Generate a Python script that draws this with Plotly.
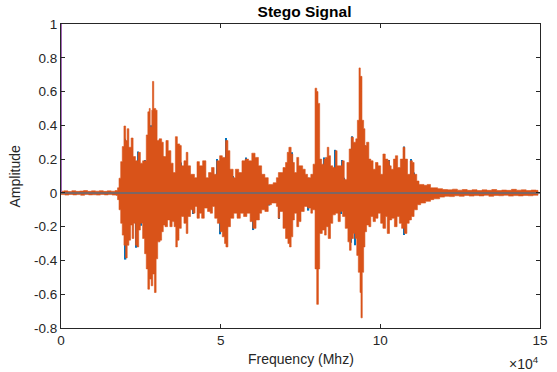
import plotly.graph_objects as go

# ---- data ----
# stego signal envelope, upper edge (sample index, amplitude)
stego_hi_x = [0, 924, 2156, 3388, 4620, 5852, 7084, 8316, 9548, 10780, 12012, 13244, 14476, 15708, 16940,
              17710, 18172, 18696, 19188, 19712, 20236, 20728, 21252, 21960, 22576, 23316, 24116, 24856, 25564,
              26180, 26704, 27196, 27628, 27936, 28428, 28644, 29044, 29660, 30092, 30708, 31508, 32032, 32864,
              33572, 34404, 35112, 35820, 36436, 37176, 37668, 38500, 39208, 39732, 40564, 41796, 42596, 43336,
              44352, 45368, 46200, 47124, 47956, 48756, 49680, 50512, 51528, 52268, 52884, 53900, 54608, 55656,
              56672, 57688, 58736, 59752, 60768, 61816, 62832, 63848, 64896, 66436, 67452, 68068, 68992, 69516,
              70320, 70840, 71364, 72072, 72592, 73088, 73828, 74444, 75152, 75676, 76476, 77216, 78232, 78940,
              79556, 80080, 80480, 81004, 81620, 82328, 82852, 83376, 83868, 84392, 85100, 85932, 86456, 87472,
              87996, 88704, 89536, 90244, 90860, 91576, 92316, 92808, 93324, 93728, 94248, 94772, 95172, 95696,
              96404, 97020, 97728, 98468, 99268, 100100, 100808, 101548, 102348, 102872, 103396, 104104, 104720,
              105428, 106260, 107092, 107708, 108508, 109340, 110048, 110572, 111404, 112112, 113652, 114676,
              115716, 116732, 117964, 119504, 121044, 122584, 124124, 125664, 127204, 128744, 130284, 131824,
              133364, 134904, 136444, 137984, 139524, 141064, 142604, 144144, 145684, 147224, 148764, 149380]
stego_hi = [0.010, 0.012, 0.008, 0.013, 0.009, 0.011, 0.014, 0.009, 0.012, 0.010, 0.013, 0.009, 0.012, 0.010, 0.014,
            0.030, 0.087, 0.185, 0.274, 0.396, 0.310, 0.380, 0.270, 0.325, 0.215, 0.190, 0.240, 0.176, 0.190,
            0.190, 0.343, 0.480, 0.500, 0.390, 0.490, 0.660, 0.500, 0.490, 0.310, 0.320, 0.300, 0.215, 0.310,
            0.250, 0.176, 0.120, 0.333, 0.290, 0.280, 0.160, 0.190, 0.240, 0.160, 0.110, 0.090, 0.185, 0.160,
            0.190, 0.090, 0.120, 0.150, 0.110, 0.190, 0.220, 0.210, 0.310, 0.250, 0.140, 0.090, 0.140, 0.120,
            0.190, 0.200, 0.190, 0.235, 0.210, 0.160, 0.110, 0.090, 0.050, 0.060, 0.090, 0.120, 0.120, 0.150,
            0.180, 0.240, 0.270, 0.230, 0.180, 0.120, 0.210, 0.160, 0.160, 0.140, 0.110, 0.090, 0.110, 0.170,
            0.620, 0.600, 0.530, 0.200, 0.170, 0.200, 0.210, 0.270, 0.220, 0.160, 0.150, 0.250, 0.160, 0.160,
            0.190, 0.080, 0.180, 0.260, 0.330, 0.300, 0.320, 0.430, 0.740, 0.690, 0.430, 0.380, 0.280, 0.300,
            0.200, 0.190, 0.140, 0.180, 0.160, 0.110, 0.230, 0.200, 0.190, 0.160, 0.140, 0.200, 0.220,
            0.150, 0.200, 0.270, 0.200, 0.110, 0.190, 0.180, 0.110, 0.070, 0.050, 0.045, 0.050,
            0.030, 0.030, 0.025, 0.020, 0.018, 0.022, 0.016, 0.020, 0.015, 0.019, 0.014, 0.018,
            0.015, 0.020, 0.014, 0.017, 0.015, 0.021, 0.016, 0.018, 0.014, 0.017, 0.015, 0.000]

# stego signal envelope, lower edge
stego_lo_x = [0, 1232, 2464, 3696, 4928, 6160, 7392, 8624, 9856, 11088, 12320, 13552, 14784, 16016, 17248,
              17710, 18172, 18696, 19188, 19712, 20236, 20728, 21252, 21776, 22268, 22792, 23316, 23808, 24332,
              24856, 25564, 26180, 26704, 27196, 27720, 28244, 28736, 29260, 29784, 30276, 31016, 31508, 32032,
              32556, 33356, 34096, 34804, 35420, 35944, 36436, 36960, 37668, 38500, 39208, 39732, 40564, 41272,
              41980, 42596, 43336, 44044, 44864, 45892, 46724, 47432, 48140, 48972, 49804, 50512, 51220, 51652,
              52268, 53068, 54116, 55132, 56148, 57184, 58212, 59228, 60060, 61076, 62124, 62832, 63848, 64896,
              65912, 67452, 67976, 68476, 69516, 70320, 71056, 71560, 72072, 72592, 73088, 73828, 74444, 75152,
              76168, 77216, 78232, 78756, 79556, 80080, 80604, 81004, 81824, 82536, 83060, 83676, 84392, 85100,
              85932, 86764, 87472, 88180, 89012, 89844, 90336, 90860, 91576, 92092, 92616, 93108, 93632, 93940,
              94340, 94772, 95172, 95696, 96404, 97020, 97728, 98468, 99268, 100100, 100808, 101640, 102156,
              102872, 103580, 104412, 105244, 105952, 106660, 107492, 108324, 109032, 109740, 110572, 111596,
              112640, 114180, 115716, 116732, 118580, 120120, 121660, 123200, 124740, 126280, 127820, 129360,
              130900, 132440, 133980, 135520, 137060, 138600, 140140, 141680, 143220, 144760, 146300, 147840,
              149380]
stego_lo = [-0.010, -0.013, -0.009, -0.012, -0.010, -0.014, -0.009, -0.012, -0.011, -0.013, -0.009, -0.012, -0.010, -0.013, -0.015,
            -0.040, -0.100, -0.180, -0.250, -0.310, -0.385, -0.310, -0.280, -0.190, -0.270, -0.180, -0.310, -0.320, -0.220,
            -0.180, -0.270, -0.360, -0.450, -0.570, -0.510, -0.550, -0.480, -0.590, -0.390, -0.290, -0.280, -0.230, -0.190,
            -0.200, -0.160, -0.200, -0.170, -0.200, -0.320, -0.280, -0.210, -0.140, -0.180, -0.240, -0.140, -0.100, -0.120,
            -0.080, -0.150, -0.120, -0.150, -0.090, -0.110, -0.120, -0.080, -0.150, -0.180, -0.230, -0.260, -0.300, -0.320,
            -0.200, -0.150, -0.120, -0.150, -0.120, -0.140, -0.120, -0.170, -0.210, -0.160, -0.120, -0.100, -0.110, -0.070,
            -0.060, -0.080, -0.150, -0.110, -0.210, -0.270, -0.300, -0.320, -0.260, -0.160, -0.120, -0.200, -0.170, -0.110,
            -0.080, -0.090, -0.120, -0.100, -0.450, -0.660, -0.450, -0.240, -0.220, -0.250, -0.200, -0.270, -0.180, -0.130,
            -0.120, -0.170, -0.110, -0.140, -0.210, -0.290, -0.340, -0.270, -0.240, -0.270, -0.370, -0.470, -0.590, -0.740,
            -0.470, -0.320, -0.230, -0.190, -0.200, -0.140, -0.170, -0.150, -0.120, -0.180, -0.210, -0.140, -0.240,
            -0.160, -0.150, -0.200, -0.140, -0.180, -0.210, -0.240, -0.180, -0.160, -0.140, -0.100, -0.070,
            -0.060, -0.050, -0.040, -0.035, -0.025, -0.020, -0.022, -0.017, -0.020, -0.015, -0.019, -0.016,
            -0.018, -0.014, -0.020, -0.015, -0.017, -0.014, -0.019, -0.016, -0.018, -0.015, -0.017, -0.014,
            0.000]

# original signal: places where it shows past the stego signal
orig_x = [20082, 22576, 24116, 26396, 28120, 29968, 32032, 37668, 42812, 48756, 51744, 53900, 58012, 62524,
          72380, 77524, 82544, 85932, 87996, 88612, 91080, 95172, 102656, 107400, 109648, 110572,
          20236, 23500, 25040, 41272, 49896, 60272, 65296, 68284, 77524, 87780, 90860, 92092, 107492, 110364]
orig_amp = [0.320, 0.210, 0.245, 0.195, 0.400, 0.305, 0.215, 0.180, 0.180, 0.200, 0.325, 0.100, 0.210, 0.120,
            0.240, 0.090, 0.210, 0.255, 0.195, 0.090, 0.335, 0.280, 0.195, 0.275, 0.200, 0.120,
            -0.395, -0.325, -0.195, -0.125, -0.245, -0.220, -0.075, -0.155, -0.105, -0.125, -0.295, -0.310, -0.250, -0.115]

zero_x = [0, 150000]
zero_y = [0, 0]
marker_x = [0, 0]
marker_y = [0, 1]

y_ticks = [-0.8, -0.6, -0.4, -0.2, 0, 0.2, 0.4, 0.6, 0.8, 1]
y_labels = ["-0.8", "-0.6", "-0.4", "-0.2", "0", "0.2", "0.4", "0.6", "0.8", "1"]
x_ticks = [0, 50000, 100000, 150000]
x_labels = ["0", "5", "10", "15"]

BLUE = "#0072BD"
ORANGE = "#D95319"
TXT = "#262626"
FONT = "Liberation Sans, Arial, sans-serif"

fig = go.Figure()

fig.add_trace(go.Bar(x=orig_x, y=orig_amp, base=0, width=420, marker=dict(color=BLUE, line=dict(width=0)),
                     showlegend=False, hoverinfo="skip"))

fig.add_trace(go.Scatter(x=stego_hi_x, y=stego_hi, mode="lines", line=dict(shape="hv", color=ORANGE, width=0.6),
                         fill="tozeroy", fillcolor=ORANGE, showlegend=False, hoverinfo="skip"))
fig.add_trace(go.Scatter(x=stego_lo_x, y=stego_lo, mode="lines", line=dict(shape="hv", color=ORANGE, width=0.6),
                         fill="tozeroy", fillcolor=ORANGE, showlegend=False, hoverinfo="skip"))

fig.add_trace(go.Scatter(x=zero_x, y=zero_y, mode="lines", line=dict(color="#5E6C7C", width=1.5),
                         showlegend=False, hoverinfo="skip"))
fig.add_trace(go.Scatter(x=marker_x, y=marker_y, mode="lines", line=dict(color="#A468B8", width=2),
                         showlegend=False, hoverinfo="skip", cliponaxis=False))

fig.update_layout(
    width=557, height=372,
    margin=dict(l=61, r=9, t=24, b=44),
    paper_bgcolor="white", plot_bgcolor="white",
    barmode="overlay",
    font=dict(family=FONT, color=TXT, size=13),
    title=dict(text="<b>Stego Signal</b>", x=0.5467, xanchor="center", y=1 - 12 / 372, yanchor="middle",
               yref="container", font=dict(size=15.5, color="#000000", family=FONT)),
    xaxis=dict(range=[0, 150000], tickvals=x_ticks, ticktext=x_labels, ticks="inside", ticklen=4,
               tickcolor=TXT, showline=True, linecolor=TXT, linewidth=1, mirror="ticks",
               showgrid=False, zeroline=False, tickfont=dict(size=13.5, color=TXT)),
    yaxis=dict(range=[-0.8, 1], tickvals=y_ticks, ticktext=y_labels, ticks="inside", ticklen=4,
               tickcolor=TXT, showline=True, linecolor=TXT, linewidth=1, mirror="ticks",
               showgrid=False, zeroline=False, tickfont=dict(size=13.5, color=TXT)),
    annotations=[
        dict(text="Frequency (Mhz)", xref="paper", yref="paper", x=0.5, y=-0.068, xanchor="center",
             yanchor="top", showarrow=False, font=dict(size=14, color=TXT)),
        dict(text="Amplitude", xref="paper", yref="paper", x=-0.095, y=0.5, textangle=-90,
             xanchor="center", yanchor="middle", showarrow=False, font=dict(size=14, color=TXT)),
        dict(text="×10<sup>4</sup>", xref="paper", yref="paper", x=1.002, y=-0.078, xanchor="right",
             yanchor="top", showarrow=False, font=dict(size=14, color=TXT)),
    ],
)

fig.write_html("out.html", config={"displayModeBar": False},
               post_script="document.body.style.margin='0';document.body.style.overflow='hidden';")
